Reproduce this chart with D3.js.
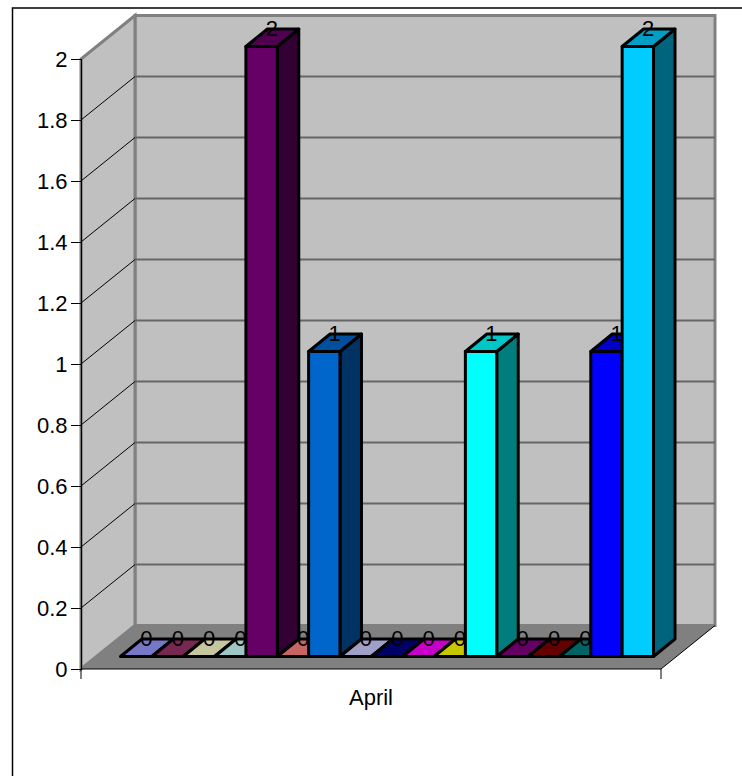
<!DOCTYPE html>
<html>
<head>
<meta charset="utf-8">
<script src="https://cdn.jsdelivr.net/npm/d3@7"></script>
<style>
  html, body { margin: 0; padding: 0; background: #fff; }
  svg { display: block; }
  text { font-family: "Liberation Sans", Arial, sans-serif; fill: #000; }
</style>
</head>
<body>
<div id="chart"></div>
<script>
var categories = ["April"];
var seriesIndex = [0, 1, 2, 3, 4, 5, 6, 7, 8, 9, 10, 11, 12, 13, 14, 15, 16];
var seriesValues = [0, 0, 0, 0, 2, 0, 1, 0, 0, 0, 0, 1, 0, 0, 0, 1, 2];
var seriesColors = ["#9999ff", "#993366", "#ffffcc", "#ccffff", "#660066", "#ff8080", "#0066cc", "#ccccff",
  "#000080", "#ff00ff", "#ffff00", "#00ffff", "#800080", "#800000", "#008080", "#0000ff", "#00ccff"];
var yTicks = [0, 0.2, 0.4, 0.6, 0.8, 1, 1.2, 1.4, 1.6, 1.8, 2];

var svgWidth = 742;
var svgHeight = 776;
var fontSize = 22;

// depth of the box, and of one bar
var boxDx = 54, boxDy = -43.5;
var barDx = 21.5, barDy = -17.5;

var svg = d3.select("#chart")
  .append("svg")
  .attr("width", svgWidth)
  .attr("height", svgHeight);

var y = d3.scaleLinear().domain([0, 2]).range([669, 59]);
var x = d3.scaleBand().domain(categories).range([81, 661]);
var barX = d3.scaleBand().domain(seriesIndex).range([120.5, 653.5]);
var barBase = 656.5;

function pts(list) {
  return list.map(function(p) { return p.join(","); }).join(" ");
}

// outer frame, only top and left show
svg.append("path")
  .attr("d", "M12.5,776V8H742")
  .attr("fill", "none")
  .attr("stroke", "#000")
  .attr("stroke-width", 1.5);

var x0 = x.range()[0], x1 = x.range()[1];
var yBottom = y(0), yTop = y(2);

// walls and floor
svg.append("polygon")
  .attr("points", pts([[x0 + boxDx, yBottom + boxDy], [x1 + boxDx, yBottom + boxDy], [x1 + boxDx, yTop + boxDy], [x0 + boxDx, yTop + boxDy]]))
  .attr("fill", "#c0c0c0")
  .attr("stroke", "#808080")
  .attr("stroke-width", 3);

svg.append("polygon")
  .attr("points", pts([[x0, yBottom], [x0 + boxDx, yBottom + boxDy], [x0 + boxDx, yTop + boxDy], [x0, yTop]]))
  .attr("fill", "#c0c0c0")
  .attr("stroke", "#808080")
  .attr("stroke-width", 3);

svg.append("polygon")
  .attr("points", pts([[x0, yBottom], [x1, yBottom], [x1 + boxDx, yBottom + boxDy], [x0 + boxDx, yBottom + boxDy]]))
  .attr("fill", "#808080");

// gridlines
var grid = svg.append("g");
yTicks.slice(1, -1).forEach(function(t) {
  grid.append("line")
    .attr("x1", x0 + boxDx).attr("x2", x1 + boxDx)
    .attr("y1", y(t) + boxDy).attr("y2", y(t) + boxDy)
    .attr("stroke", "#666")
    .attr("stroke-width", 1.8);
  grid.append("line")
    .attr("x1", x0).attr("x2", x0 + boxDx)
    .attr("y1", y(t)).attr("y2", y(t) + boxDy)
    .attr("stroke", "#000")
    .attr("stroke-width", 1);
});

// front edges of the floor
svg.append("path")
  .attr("d", "M" + x0 + "," + yBottom + "H" + x1 + "L" + (x1 + boxDx) + "," + (yBottom + boxDy))
  .attr("fill", "none")
  .attr("stroke", "#000")
  .attr("stroke-width", 1);

// axes
var leftAxis = d3.axisLeft(y).tickValues(yTicks).tickSize(10).tickPadding(3.5).tickFormat(d3.format("~g"));
var yAxis = svg.append("g")
  .attr("transform", "translate(" + x0 + ",0)")
  .call(leftAxis);
yAxis.select(".domain").attr("stroke", "#000").attr("stroke-width", 1.2);
yAxis.selectAll("line").attr("stroke", "#000").attr("stroke-width", 1);
yAxis.selectAll("text").attr("font-size", fontSize).attr("font-family", "Liberation Sans").attr("fill", "#000");

var bottomAxis = d3.axisBottom(x).tickSize(0).tickPadding(20);
var xAxis = svg.append("g")
  .attr("transform", "translate(0," + yBottom + ")")
  .call(bottomAxis);
xAxis.select(".domain").remove();
xAxis.selectAll("text").attr("font-size", fontSize).attr("font-family", "Liberation Sans").attr("fill", "#000");
x.range().forEach(function(px) {
  xAxis.append("line")
    .attr("x1", px).attr("x2", px)
    .attr("y1", 0).attr("y2", 10)
    .attr("stroke", "#000");
});

// bars go left to right so each one covers the label of the one before
var unit = y(0) - y(1);
seriesIndex.forEach(function(i) {
  var value = seriesValues[i];
  var color = d3.color(seriesColors[i]);
  var left = barX(i);
  var right = left + barX.bandwidth();
  var top = barBase - value * unit;
  var g = svg.append("g")
    .attr("stroke", "#000")
    .attr("stroke-width", 3)
    .attr("stroke-linejoin", "round");

  if (value > 0) {
    g.append("polygon")
      .attr("points", pts([[right, barBase], [right + barDx, barBase + barDy], [right + barDx, top + barDy], [right, top]]))
      .attr("fill", color.darker(2));
    g.append("polygon")
      .attr("points", pts([[left, barBase], [right, barBase], [right, top], [left, top]]))
      .attr("fill", color);
  }

  var topColor = d3.rgb(color.r * 0.78, color.g * 0.78, color.b * 0.78);
  g.append("polygon")
    .attr("points", pts([[left, top], [right, top], [right + barDx, top + barDy], [left + barDx, top + barDy]]))
    .attr("fill", topColor);

  svg.append("text")
    .attr("x", left + (barX.bandwidth() + barDx) / 2 - 0.5)
    .attr("y", top + barDy + 7)
    .attr("text-anchor", "middle")
    .attr("font-size", fontSize)
    .text(value);
});
</script>
</body>
</html>
